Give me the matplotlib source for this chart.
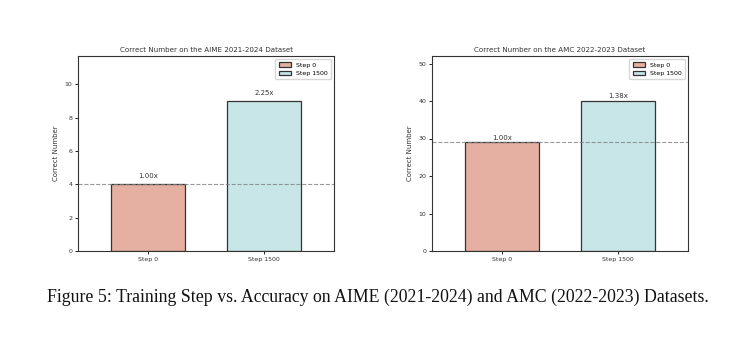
import matplotlib.pyplot as plt
import numpy as np

steps = ['Step 0', 'Step 1500']
aime = [4, 9]
amc = [29, 40]
titles = ['Correct Number on the AIME 2021-2024 Dataset',
          'Correct Number on the AMC 2022-2023 Dataset']
colors = ['#e5b0a1', '#c8e6e8']
caption = 'Figure 5: Training Step vs. Accuracy on AIME (2021-2024) and AMC (2022-2023) Datasets.'

fig = plt.figure(figsize=(7.55, 3.38), dpi=100)
ax1 = fig.add_axes([78/755, 1 - 251/338, 256/755, 195/338])
ax2 = fig.add_axes([432/755, 1 - 251/338, 256/755, 195/338])

x = np.arange(len(steps))
offsets = [0.3, 0.4]
for ax, vals, title, off in zip([ax1, ax2], [aime, amc], titles, offsets):
    bars = ax.bar(x, vals, width=0.64, color=colors, edgecolor='#333333',
                  linewidth=0.9, label=steps)
    ax.axhline(vals[0], color='gray', linestyle='--', linewidth=0.8, alpha=0.8)
    ymax = max(vals) * 1.3
    for b, v in zip(bars, vals):
        ax.text(b.get_x() + b.get_width() / 2, v + off, f'{v / vals[0]:.2f}x',
                ha='center', va='bottom', fontsize=5, color='#333333')
    ax.set_ylim(0, ymax)
    ax.set_xlim(-0.6, 1.6)
    ax.set_xticks(x)
    ax.set_xticklabels(steps)
    ax.set_ylabel('Correct Number', fontsize=5, color='#333333')
    ax.set_title(title, fontsize=5.1, pad=3, color='#333333')
    ax.tick_params(labelsize=4.5, length=2, width=0.6, pad=2, labelcolor='#333333')
    for s in ax.spines.values():
        s.set_linewidth(0.8)
        s.set_color('#333333')
    ax.legend(fontsize=4.5, loc='upper right', handlelength=2, borderpad=0.5)

fig.text(0.5, 1 - 297/338, caption, ha='center', va='center',
         fontsize=12.8, family='Liberation Serif', color='#111111')

fig.savefig('out.png', dpi=100)
